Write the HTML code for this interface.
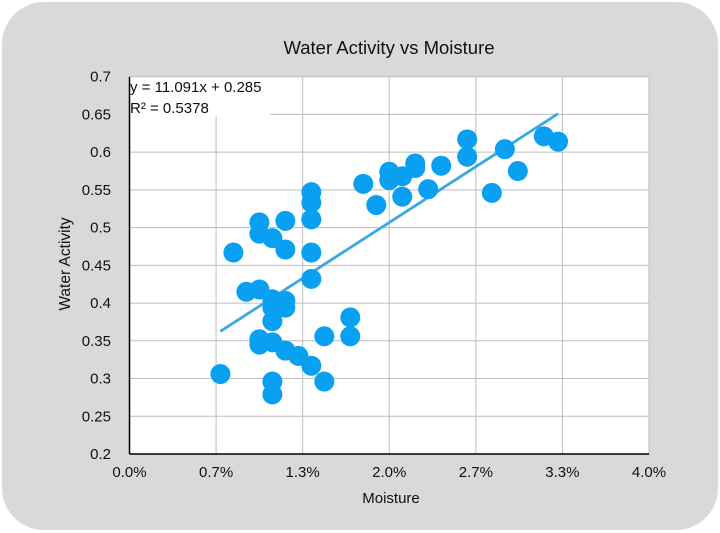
<!DOCTYPE html>
<html><head><meta charset="utf-8"><style>
html,body{margin:0;padding:0;background:#fff;}
svg{display:block;font-family:"Liberation Sans",sans-serif;}
</style></head><body>
<svg id="chart" width="720" height="533">
<rect x="2" y="2" width="716" height="528" rx="42" fill="#d9d9d9"/>
<text x="389" y="54" text-anchor="middle" font-size="18.5" fill="#111">Water Activity vs Moisture</text>
<rect x="129.5" y="76.7" width="519.5" height="377.3" fill="#fff"/>
<g id="grid"></g>
<g id="ticks"></g>
<line id="trend" stroke="#3aa8e2" stroke-width="2.8"/>
<g id="dots"></g>
<line x1="129.5" y1="76.7" x2="129.5" y2="454" stroke="#000" stroke-width="1.5"/>
<line x1="129.5" y1="454" x2="649" y2="454" stroke="#000" stroke-width="1.5"/>
<rect x="130.5" y="77.5" width="140" height="39" fill="#fff"/>
<text x="130" y="92" font-size="15" fill="#111">y = 11.091x + 0.285</text>
<text x="130" y="113" font-size="15" fill="#111">R² = 0.5378</text>
<text x="391" y="503" text-anchor="middle" font-size="15" fill="#111">Moisture</text>
<text transform="translate(70,264) rotate(-90)" text-anchor="middle" font-size="15.5" fill="#111">Water Activity</text>
</svg>
<script>
const xTicks=[0,0.6667,1.3333,2,2.6667,3.3333,4];
const xTickLabels=["0.0%","0.7%","1.3%","2.0%","2.7%","3.3%","4.0%"];
const yTicks=[0.2,0.25,0.3,0.35,0.4,0.45,0.5,0.55,0.6,0.65,0.7];
const yTickLabels=["0.2","0.25","0.3","0.35","0.4","0.45","0.5","0.55","0.6","0.65","0.7"];
const moisture=[0.70,0.80,0.90,1.00,1.00,1.00,1.00,1.00,1.10,1.10,1.10,1.10,1.10,1.10,1.10,1.20,1.20,1.20,1.20,1.20,1.30,1.40,1.40,1.40,1.40,1.40,1.40,1.50,1.50,1.70,1.70,1.80,1.90,2.00,2.00,2.10,2.10,2.20,2.20,2.30,2.40,2.60,2.60,2.79,2.89,2.99,3.19,3.30];
const activity=[0.306,0.467,0.415,0.507,0.492,0.418,0.345,0.352,0.486,0.405,0.394,0.376,0.348,0.296,0.279,0.509,0.471,0.403,0.394,0.337,0.330,0.547,0.533,0.511,0.467,0.432,0.317,0.356,0.296,0.381,0.356,0.558,0.530,0.574,0.563,0.568,0.541,0.585,0.579,0.551,0.582,0.617,0.594,0.546,0.604,0.575,0.621,0.614];
const trendSlope=11.091, trendIntercept=0.285, trendRange=[0.7,3.3];
const NS="http://www.w3.org/2000/svg";
const X=v=>129.5+(v/4)*519.5;
const Y=v=>454-((v-0.2)/0.5)*377.3;
const grid=document.getElementById('grid'), ticks=document.getElementById('ticks'), dots=document.getElementById('dots');
function mk(t,a,p){const e=document.createElementNS(NS,t);for(const k in a)e.setAttribute(k,a[k]);p.appendChild(e);return e;}
xTicks.forEach((v,i)=>{
 if(i>0){const g=mk('line',{x1:X(v),x2:X(v),y1:76.7,y2:454,stroke:'#bdbdbd','stroke-width':1},grid);
 
 }
 const t=mk('text',{x:X(v),y:477,'text-anchor':'middle','font-size':15,fill:'#111'},ticks);
 t.textContent=xTickLabels[i];
 
 
});
yTicks.forEach((v,i)=>{
 if(i>0){const g=mk('line',{x1:129.5,x2:649,y1:Y(v),y2:Y(v),stroke:'#bdbdbd','stroke-width':1},grid);
 
 }
 const t=mk('text',{x:111,y:Y(v)+5,'text-anchor':'end','font-size':15,fill:'#111'},ticks);
 t.textContent=yTickLabels[i];
 
 
});
moisture.forEach((m,i)=>{
 const c=mk('circle',{cx:X(m),cy:Y(activity[i]),r:10,fill:'#0aa0f2'},dots);
 
 
});
const tr=document.getElementById('trend');
tr.setAttribute('x1',X(trendRange[0]));tr.setAttribute('y1',Y(trendSlope*trendRange[0]/100+trendIntercept));
tr.setAttribute('x2',X(trendRange[1]));tr.setAttribute('y2',Y(trendSlope*trendRange[1]/100+trendIntercept));
</script>
</body></html>
